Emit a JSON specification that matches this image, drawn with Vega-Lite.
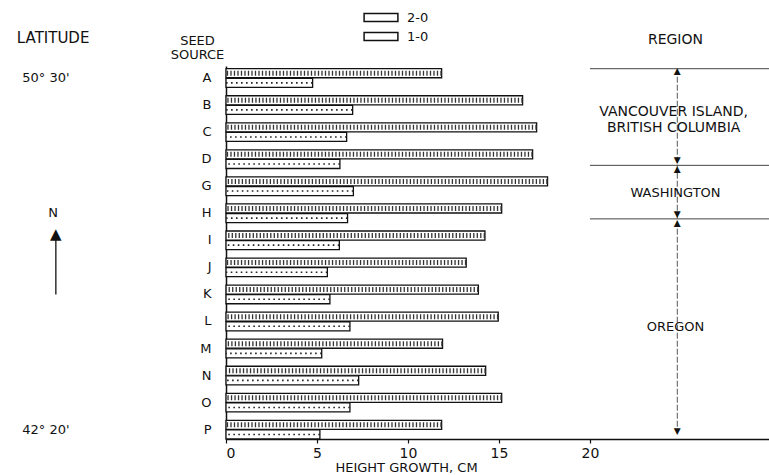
{
  "$schema": "https://vega.github.io/schema/vega-lite/v6.json",
  "width": 543,
  "height": 373,
  "autosize": {"type": "none"},
  "padding": {"left": 226, "top": 66, "right": 0, "bottom": 36},
  "background": "white",
  "config": {
    "view": {"stroke": null},
    "font": "DejaVu Sans",
    "text": {"color": "#111", "font": "DejaVu Sans"}
  },
  "datasets": {
    "growth": [
      {"seed": "A", "age": "2-0", "height": 11.85}, {"seed": "A", "age": "1-0", "height": 4.76},
      {"seed": "B", "age": "2-0", "height": 16.3}, {"seed": "B", "age": "1-0", "height": 6.96},
      {"seed": "C", "age": "2-0", "height": 17.07}, {"seed": "C", "age": "1-0", "height": 6.63},
      {"seed": "D", "age": "2-0", "height": 16.85}, {"seed": "D", "age": "1-0", "height": 6.26},
      {"seed": "G", "age": "2-0", "height": 17.67}, {"seed": "G", "age": "1-0", "height": 7.0},
      {"seed": "H", "age": "2-0", "height": 15.15}, {"seed": "H", "age": "1-0", "height": 6.68},
      {"seed": "I", "age": "2-0", "height": 14.23}, {"seed": "I", "age": "1-0", "height": 6.23},
      {"seed": "J", "age": "2-0", "height": 13.2}, {"seed": "J", "age": "1-0", "height": 5.57},
      {"seed": "K", "age": "2-0", "height": 13.87}, {"seed": "K", "age": "1-0", "height": 5.71},
      {"seed": "L", "age": "2-0", "height": 14.96}, {"seed": "L", "age": "1-0", "height": 6.81},
      {"seed": "M", "age": "2-0", "height": 11.9}, {"seed": "M", "age": "1-0", "height": 5.26},
      {"seed": "N", "age": "2-0", "height": 14.27}, {"seed": "N", "age": "1-0", "height": 7.29},
      {"seed": "O", "age": "2-0", "height": 15.15}, {"seed": "O", "age": "1-0", "height": 6.81},
      {"seed": "P", "age": "2-0", "height": 11.85}, {"seed": "P", "age": "1-0", "height": 5.16}
    ],
    "latitudes": [
      {"seed": "A", "latitude": "50° 30'"},
      {"seed": "P", "latitude": "42° 20'"}
    ]
  },
  "layer": [
    {
      "data": {"name": "growth"},
      "mark": {"type": "bar", "stroke": "#111", "strokeWidth": 1.3},
      "encoding": {
        "x": {
          "field": "height", "type": "quantitative",
          "scale": {"domain": [0, 29.84], "nice": false, "zero": false},
          "axis": {
            "values": [0, 5, 10, 15, 20], "grid": false,
            "domainColor": "#111", "domainWidth": 1.3,
            "tickColor": "#111", "tickSize": 4, "tickWidth": 1.2,
            "labelFontSize": 14, "labelColor": "#111", "labelPadding": 3, "labelFont": "DejaVu Sans",
            "title": "HEIGHT  GROWTH,  CM", "titleFontSize": 13, "titleFontWeight": "normal",
            "titleColor": "#111", "titleFont": "DejaVu Sans",
            "titleX": 180, "titleY": 35, "titleAlign": "center", "titleBaseline": "bottom"
          }
        },
        "y": {
          "field": "seed", "type": "nominal",
          "scale": {
            "domain": ["A", "B", "C", "D", "G", "H", "I", "J", "K", "L", "M", "N", "O", "P"],
            "paddingInner": 0.31, "paddingOuter": 0.05, "align": 1
          },
          "axis": {
            "orient": "left", "domainColor": "#111", "domainWidth": 1.5, "ticks": false,
            "labelFontSize": 13, "labelPadding": 15, "labelColor": "#111", "labelFont": "DejaVu Sans",
            "title": ["SEED", "SOURCE"], "titleAngle": 0, "titleX": -29, "titleY": -32,
            "titleAlign": "center", "titleBaseline": "top", "titleFontSize": 13,
            "titleFontWeight": "normal", "titleLineHeight": 14, "titleColor": "#111", "titleFont": "DejaVu Sans"
          }
        },
        "yOffset": {"field": "age", "type": "nominal", "sort": ["2-0", "1-0"], "scale": {"paddingInner": 0.06}},
        "fill": {
          "field": "age", "type": "nominal",
          "scale": {"domain": ["2-0", "1-0"], "range": ["#ffffff", "#ffffff"]},
          "legend": {
            "orient": "none", "legendX": 147.5, "legendY": -56, "title": null,
            "symbolType": "M-2.6,-0.62H2.6V0.62H-2.6Z", "symbolSize": 169,
            "symbolStrokeColor": "#111", "symbolStrokeWidth": 1.5,
            "labelFontSize": 13, "labelOffset": 18.5, "rowPadding": 4, "labelColor": "#111", "labelFont": "DejaVu Sans"
          }
        }
      }
    },
    {
      "data": {"name": "growth"},
      "transform": [{"filter": "datum.age == '2-0'"}],
      "mark": {"type": "rule", "color": "#333", "strokeWidth": 5, "strokeDash": [1.3, 2.2]},
      "encoding": {
        "x": {"field": "height", "type": "quantitative"},
        "x2": {"datum": 0},
        "y": {"field": "seed", "type": "nominal"},
        "yOffset": {"field": "age", "type": "nominal", "sort": ["2-0", "1-0"]}
      }
    },
    {
      "data": {"name": "growth"},
      "transform": [{"filter": "datum.age == '1-0'"}],
      "mark": {"type": "rule", "color": "#222", "strokeWidth": 1.6, "strokeDash": [1.6, 3.4]},
      "encoding": {
        "x": {"field": "height", "type": "quantitative"},
        "x2": {"datum": 0},
        "y": {"field": "seed", "type": "nominal"},
        "yOffset": {"field": "age", "type": "nominal", "sort": ["2-0", "1-0"]}
      }
    },
    {
      "data": {"name": "latitudes"},
      "mark": {"type": "text", "fontSize": 13, "align": "center", "baseline": "middle"},
      "encoding": {
        "x": {"datum": -9.9},
        "y": {"field": "seed", "type": "nominal"},
        "text": {"field": "latitude"}
      }
    },
    {
      "data": {"values": [{"label": "LATITUDE"}]},
      "mark": {"type": "text", "fontSize": 15, "align": "center", "baseline": "middle", "dy": -40},
      "encoding": {"x": {"datum": -9.5}, "y": {"datum": "A", "type": "nominal"}, "text": {"field": "label"}}
    },
    {
      "data": {"values": [{"label": "REGION"}]},
      "mark": {"type": "text", "fontSize": 14, "align": "center", "baseline": "middle", "dy": -38},
      "encoding": {"x": {"datum": 24.7}, "y": {"datum": "A", "type": "nominal"}, "text": {"field": "label"}}
    },
    {
      "data": {"values": [{"label": "N"}]},
      "mark": {"type": "text", "fontSize": 13, "align": "center", "baseline": "middle"},
      "encoding": {"x": {"datum": -9.5}, "y": {"datum": "H", "type": "nominal"}, "text": {"field": "label"}}
    },
    {
      "data": {"values": [{"label": "N"}]},
      "mark": {"type": "rule", "color": "#111", "strokeWidth": 1.3},
      "encoding": {"x": {"datum": -9.35}, "y": {"datum": "I", "type": "nominal", "bandPosition": 0.1}, "y2": {"datum": "K"}}
    },
    {
      "data": {"values": [{"label": "▲"}]},
      "mark": {"type": "text", "fontSize": 15, "align": "center", "baseline": "top", "dy": -4},
      "encoding": {"x": {"datum": -9.35}, "y": {"datum": "I", "type": "nominal", "bandPosition": 0}, "text": {"field": "label"}}
    },
    {
      "data": {"values": [{"b": "top"}]},
      "mark": {"type": "rule", "color": "#444", "strokeWidth": 1},
      "encoding": {"x": {"datum": 20}, "x2": {"datum": 29.84}, "y": {"datum": "A", "type": "nominal", "bandPosition": 0}}
    },
    {
      "data": {"values": [{"b": "bc-wa"}]},
      "mark": {"type": "rule", "color": "#444", "strokeWidth": 1},
      "encoding": {"x": {"datum": 20}, "x2": {"datum": 29.84}, "y": {"datum": "D", "type": "nominal", "bandPosition": 0.83}}
    },
    {
      "data": {"values": [{"b": "wa-or"}]},
      "mark": {"type": "rule", "color": "#444", "strokeWidth": 1},
      "encoding": {"x": {"datum": 20}, "x2": {"datum": 29.84}, "y": {"datum": "H", "type": "nominal", "bandPosition": 0.8}}
    },
    {
      "data": {"values": [{"b": "span"}]},
      "mark": {"type": "rule", "color": "#555", "strokeWidth": 1, "strokeDash": [6, 2]},
      "encoding": {"x": {"datum": 24.8}, "y": {"datum": "A", "type": "nominal", "bandPosition": 0}, "y2": {"datum": "P"}}
    },
    {
      "data": {"values": [{"label": "▲"}]},
      "mark": {"type": "text", "fontSize": 9, "align": "center", "baseline": "top", "dy": -2},
      "encoding": {"x": {"datum": 24.8}, "y": {"datum": "A", "type": "nominal", "bandPosition": 0}, "text": {"field": "label"}}
    },
    {
      "data": {"values": [{"label": "▼"}]},
      "mark": {"type": "text", "fontSize": 9, "align": "center", "baseline": "bottom", "dy": 0},
      "encoding": {"x": {"datum": 24.8}, "y": {"datum": "D", "type": "nominal", "bandPosition": 0.83}, "text": {"field": "label"}}
    },
    {
      "data": {"values": [{"label": "▲"}]},
      "mark": {"type": "text", "fontSize": 9, "align": "center", "baseline": "top", "dy": 0},
      "encoding": {"x": {"datum": 24.8}, "y": {"datum": "D", "type": "nominal", "bandPosition": 0.83}, "text": {"field": "label"}}
    },
    {
      "data": {"values": [{"label": "▼"}]},
      "mark": {"type": "text", "fontSize": 9, "align": "center", "baseline": "bottom", "dy": 0},
      "encoding": {"x": {"datum": 24.8}, "y": {"datum": "H", "type": "nominal", "bandPosition": 0.8}, "text": {"field": "label"}}
    },
    {
      "data": {"values": [{"label": "▲"}]},
      "mark": {"type": "text", "fontSize": 9, "align": "center", "baseline": "top", "dy": 0},
      "encoding": {"x": {"datum": 24.8}, "y": {"datum": "H", "type": "nominal", "bandPosition": 0.8}, "text": {"field": "label"}}
    },
    {
      "data": {"values": [{"label": "▼"}]},
      "mark": {"type": "text", "fontSize": 9, "align": "center", "baseline": "bottom", "dy": 2},
      "encoding": {"x": {"datum": 24.8}, "y": {"datum": "P", "type": "nominal", "bandPosition": 0.75}, "text": {"field": "label"}}
    },
    {
      "data": {"values": [{"label": "VANCOUVER  ISLAND,\nBRITISH COLUMBIA"}]},
      "mark": {"type": "text", "fontSize": 14, "align": "center", "baseline": "middle", "lineBreak": "\n", "lineHeight": 16},
      "encoding": {"x": {"datum": 24.6}, "y": {"datum": "B", "type": "nominal", "bandPosition": 0.87}, "text": {"field": "label"}}
    },
    {
      "data": {"values": [{"label": "WASHINGTON"}]},
      "mark": {"type": "text", "fontSize": 13, "align": "center", "baseline": "middle"},
      "encoding": {"x": {"datum": 24.7}, "y": {"datum": "G", "type": "nominal", "bandPosition": 0.88}, "text": {"field": "label"}}
    },
    {
      "data": {"values": [{"label": "OREGON"}]},
      "mark": {"type": "text", "fontSize": 13, "align": "center", "baseline": "middle"},
      "encoding": {"x": {"datum": 24.7}, "y": {"datum": "L", "type": "nominal", "bandPosition": 0.77}, "text": {"field": "label"}}
    }
  ]
}
